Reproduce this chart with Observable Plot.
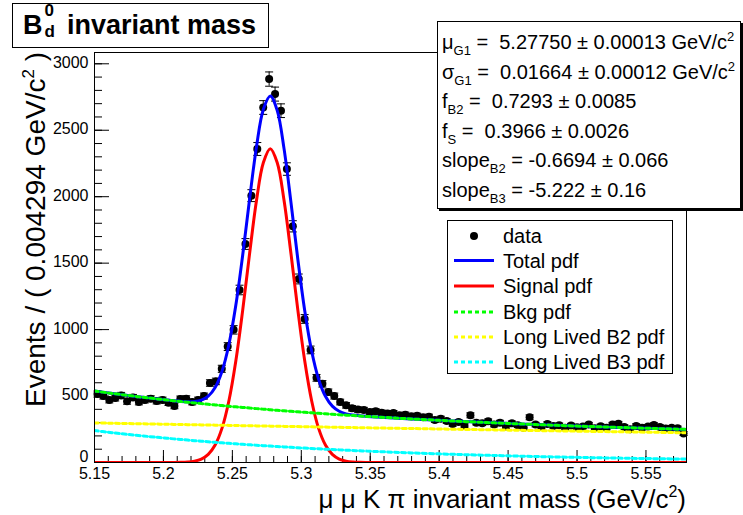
<!DOCTYPE html>
<html><head><meta charset="utf-8">
<script src="https://cdn.jsdelivr.net/npm/d3@7"></script>
<script src="https://cdn.jsdelivr.net/npm/@observablehq/plot@0.6"></script>
<style>
body{margin:0;background:#fff;}
#wrap{position:relative;width:743px;height:515px;overflow:hidden;font-family:"Liberation Sans",Arial,Helvetica,sans-serif;color:#000;}
.box{position:absolute;background:#fff;border:1px solid #000;box-sizing:border-box;}
#title{left:12px;top:3px;width:257px;height:45px;font-weight:bold;font-size:27px;white-space:nowrap;}
#title .t{position:absolute;left:10px;top:6px;}
.stack{display:inline-block;position:relative;width:17px;height:10px;font-size:17px;}
.stack .up{position:absolute;left:2px;top:-23px;}
.stack .dn{position:absolute;left:2px;top:-2px;}
#stats{left:437px;top:21px;width:304px;height:188px;box-shadow:2px 2px 0 #000;font-size:20px;white-space:nowrap;}
#stats .row{position:absolute;left:4px;height:29px;line-height:29px;}
.sub{font-size:13px;position:relative;top:6px;}
.sup{font-size:13px;position:relative;top:-8px;}
#legend{left:447px;top:220px;width:226px;height:154px;}
</style></head><body><div id="wrap"></div>
<script>
// ---- histogram definition ----
const binLow = 5.15;
const binWidth = 0.004294;
const nBins = 100;
// events per bin
const counts = [
 515,500,470,485,505,460,490,455,470,480,
 462,470,450,425,478,480,455,470,500,598,
 610,705,872,998,1298,1644,2008,2359,2671,2885,
 2772,2647,2208,1777,1381,1080,847,637,592,530,
 500,455,430,408,398,395,380,385,375,368,
 372,355,360,348,352,340,345,320,330,312,
 290,305,275,355,300,295,310,285,300,270,
 295,280,262,340,285,268,290,275,280,262,
 278,265,270,285,258,272,262,285,292,268,
 250,275,262,270,282,268,255,262,258,218
];
const curveX = [5.15,5.16,5.17,5.18,5.19,5.1975,5.2025,5.2075,5.2125,5.2175,5.2225,5.2275,5.2325,5.2375,5.2425,5.2475,5.2525,5.2575,5.2625,5.2675,5.2725,5.2775,5.2825,5.2875,5.2925,5.2975,5.3025,5.3075,5.3125,5.3175,5.3225,5.3275,5.3325,5.3375,5.3425,5.3475,5.3575,5.38,5.41,5.44,5.47,5.50,5.53,5.5794];
const totalPdf = [538.0,523.8,510.2,497.3,484.9,476.0,470.3,464.8,460.1,457.0,458.3,468.9,499.0,564.4,686.7,888.3,1182.5,1560.9,1982.5,2376.4,2657.9,2757.9,2649.7,2359.9,1957.6,1527.8,1141.1,838.5,628.5,497.9,424.0,385.5,366.2,356.6,350.9,347.0,340.6,327.7,312.1,298.2,285.6,274.4,264.1,249.1];
const signalPdf = [0,0,0,0,0,0,0.1,0.3,1.1,3.5,10.0,25.9,61.0,131.4,258.5,464.9,763.8,1146.7,1572.7,1971,2256.8,2361,2256.8,1971,1572.7,1146.7,763.8,464.9,258.5,131.4,61.0,25.9,10.0,3.5,1.1,0.3,0,0,0,0,0,0,0,0];
const bkgPdf = [538.0,523.8,510.2,497.3,484.9,476.0,470.2,464.5,459.0,453.5,448.3,443.0,438.0,433.0,428.2,423.4,418.7,414.2,409.8,405.4,401.1,396.9,392.9,388.9,384.9,381.1,377.3,373.6,370.0,366.5,363.0,359.6,356.2,353.1,349.8,346.7,340.6,327.7,312.1,298.2,285.6,274.4,264.1,249.1];
const b2Pdf = [298.0,296.0,294.0,292.1,290.1,288.7,287.7,286.7,285.8,284.8,283.9,282.9,282.0,281.0,280.1,279.2,278.2,277.3,276.4,275.5,274.5,273.6,272.7,271.8,270.9,270.0,269.1,268.2,267.3,266.4,265.5,264.6,263.7,262.9,262.0,261.1,259.4,255.5,250.4,245.4,240.5,235.8,231.1,223.6];
const b3Pdf = [240.0,227.8,216.2,205.2,194.8,187.3,182.5,177.8,173.2,168.7,164.4,160.1,156.0,152.0,148.1,144.2,140.5,136.9,133.4,129.9,126.6,123.3,120.2,117.1,114.0,111.1,108.2,105.4,102.7,100.1,97.5,95.0,92.5,90.2,87.8,85.6,81.2,72.2,61.7,52.8,45.1,38.6,33.0,25.5];
// ---- axes ----
const xTicks = [5.15,5.2,5.25,5.3,5.35,5.4,5.45,5.5,5.55];
const yTicks = [0,500,1000,1500,2000,2500,3000];
const yMax = 3085;
// ---- stats box ----
const statNames = ["μ","σ","f","f","slope","slope"];
const statSubs = ["G1","G1","B2","S","B2","B3"];
const statValues = ["5.27750","0.01664","0.7293","0.3966","-0.6694","-5.222"];
const statErrors = ["0.00013","0.00012","0.0085","0.0026","0.066","0.16"];
const statUnits = [true,true,false,false,false,false];
// ---- legend ----
const legendLabels = ["data","Total pdf","Signal pdf","Bkg pdf","Long Lived B2 pdf","Long Lived B3 pdf"];
const legendColors = ["#000000","#0000ff","#ff0000","#00ff00","#ffff00","#00ffff"];
const legendDashed = [false,false,false,true,true,true];

const W = 743, H = 515, mL = 94, mR = 57, mT = 52, mB = 53;
const innerW = W - mL - mR, innerH = H - mT - mB;

const bins = counts.map((n, i) => ({x: binLow + (i + 0.5) * binWidth, y: n, e: Math.sqrt(n)}));
const curves = curveX.map((x, i) => ({x, total: totalPdf[i], sig: signalPdf[i], bkg: bkgPdf[i], b2: b2Pdf[i], b3: b3Pdf[i]}));
const xMinor = d3.range(0, 43).map(k => binLow + k * 0.01);
const yMinor = d3.range(0, 31).map(k => k * 100);
const capSymbol = {draw(ctx, size) { const w = 4; ctx.moveTo(-w, 0); ctx.lineTo(w, 0); }};
const dash = "4,3";
const font = '"Liberation Sans", Arial, Helvetica, sans-serif';

const chart = Plot.plot({
  width: W, height: H,
  marginLeft: mL, marginRight: mR, marginTop: mT, marginBottom: mB,
  style: {fontFamily: font, background: "white", color: "black", overflow: "visible"},
  x: {domain: [binLow, binLow + nBins * binWidth]},
  y: {domain: [0, yMax]},
  marks: [
    Plot.tickY(yMinor, {y: d => d, insetRight: innerW - 8, stroke: "black"}),
    Plot.tickY(yTicks, {y: d => d, insetRight: innerW - 15, stroke: "black"}),
    Plot.tickX(xMinor, {x: d => d, insetTop: innerH - 6, stroke: "black"}),
    Plot.tickX(xTicks, {x: d => d, insetTop: innerH - 12, stroke: "black"}),
    Plot.axisY(yTicks.filter(t => t > 0), {tickSize: 0, tickPadding: 6, fontSize: 16, dy: -1, label: null, tickFormat: d => String(d)}),
    Plot.axisY(yTicks.filter(t => t === 0), {tickSize: 0, tickPadding: 6, fontSize: 16, dy: -6, label: null, tickFormat: d => String(d)}),
    Plot.axisX(xTicks, {tickSize: 0, tickPadding: 5, fontSize: 16, label: null, tickFormat: d => String(d)}),
    Plot.ruleX(bins, {x: "x", y1: d => d.y - d.e, y2: d => d.y + d.e, stroke: "black", strokeWidth: 1}),
    Plot.dot(bins, {x: "x", y: d => d.y + d.e, symbol: capSymbol, stroke: "black", strokeWidth: 1, r: 4}),
    Plot.dot(bins, {x: "x", y: d => d.y - d.e, symbol: capSymbol, stroke: "black", strokeWidth: 1, r: 4}),
    Plot.dot(bins, {x: "x", y: "y", r: 4, fill: "black", stroke: "none"}),
    Plot.line(curves, {x: "x", y: "total", stroke: "#0000ff", strokeWidth: 3, curve: "catmull-rom", clip: true}),
    Plot.line(curves, {x: "x", y: "sig", stroke: "#ff0000", strokeWidth: 3, curve: "catmull-rom", clip: true}),
    Plot.line(curves, {x: "x", y: "bkg", stroke: "#00ff00", strokeWidth: 3, strokeDasharray: dash, curve: "catmull-rom", clip: true}),
    Plot.line(curves, {x: "x", y: "b2", stroke: "#ffff00", strokeWidth: 3, strokeDasharray: dash, curve: "catmull-rom", clip: true}),
    Plot.line(curves, {x: "x", y: "b3", stroke: "#00ffff", strokeWidth: 3, strokeDasharray: dash, curve: "catmull-rom", clip: true}),
    Plot.frame({stroke: "black", strokeWidth: 1})
  ]
});

const wrap = document.getElementById("wrap");
wrap.appendChild(chart);

// axis titles
const svg = d3.select(chart);
const yt = svg.append("text")
  .attr("transform", `translate(45,${mT}) rotate(-90)`)
  .attr("text-anchor", "end")
  .attr("font-size", 28).attr("font-family", font).attr("fill", "black");
yt.append("tspan").text("Events / ( 0.004294 GeV/c");
yt.append("tspan").attr("font-size", 17).attr("dy", -11).text("2");
yt.append("tspan").attr("dy", 11).text(" )");

const xt = svg.append("text")
  .attr("x", mL + innerW).attr("y", 508)
  .attr("text-anchor", "end")
  .attr("font-size", 26).attr("font-family", font).attr("fill", "black");
xt.append("tspan").text("μ μ K π invariant mass (GeV/c");
xt.append("tspan").attr("font-size", 16).attr("dy", -11).text("2");
xt.append("tspan").attr("dy", 11).text(")");

// title box
const title = document.createElement("div");
title.className = "box"; title.id = "title";
title.innerHTML = '<span class="t">B<span class="stack"><span class="up">0</span><span class="dn">d</span></span> invariant mass</span>';
wrap.appendChild(title);

// stats box
const stats = document.createElement("div");
stats.className = "box"; stats.id = "stats";
stats.innerHTML = statNames.map((n, i) =>
  `<div class="row" style="top:${6 + i * 29.5}px">${n}<span class="sub">${statSubs[i]}</span> = ${statValues[i].startsWith("-") ? "" : "&nbsp;"}${statValues[i]} ± ${statErrors[i]}${statUnits[i] ? ' GeV/c<span class="sup">2</span>' : ''}</div>`
).join("");
wrap.appendChild(stats);

// legend
const leg = document.createElement("div");
leg.className = "box"; leg.id = "legend";
wrap.appendChild(leg);
const lsvg = d3.select(leg).append("svg").attr("width", 224).attr("height", 152).style("position", "absolute").style("left", 0).style("top", 0);
const rowY = [15, 39.5, 65, 91, 116, 141];
legendLabels.forEach((lab, i) => {
  const y = rowY[i];
  if (i === 0) {
    lsvg.append("circle").attr("cx", 26).attr("cy", y).attr("r", 4).attr("fill", "black");
  } else {
    lsvg.append("line").attr("x1", 6).attr("x2", 46).attr("y1", y).attr("y2", y)
      .attr("stroke", legendColors[i]).attr("stroke-width", 3)
      .attr("stroke-dasharray", legendDashed[i] ? dash : null);
  }
  lsvg.append("text").attr("x", 55).attr("y", y).attr("dy", "0.35em")
    .attr("font-size", 20).attr("font-family", font).text(lab);
});
</script></body></html>
